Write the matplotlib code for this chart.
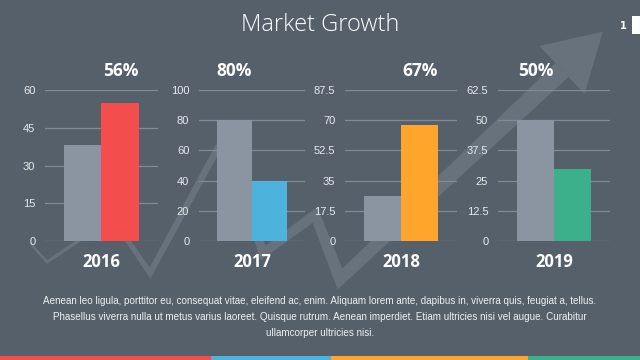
import numpy as np
import matplotlib
matplotlib.use("Agg")
import matplotlib.pyplot as plt
from matplotlib.patches import Polygon, Rectangle

# data
years = ["2016", "2017", "2018", "2019"]
base_values = [38, 80, 26, 50]
growth_values = [55, 40, 67, 30]
percent_labels = ["56%", "80%", "67%", "50%"]
y_max = [60, 100, 87.5, 62.5]
y_step = [15, 20, 17.5, 12.5]
tick_labels = [
    ["0", "15", "30", "45", "60"],
    ["0", "20", "40", "60", "80", "100"],
    ["0", "17.5", "35", "52.5", "70", "87.5"],
    ["0", "12.5", "25", "37.5", "50", "62.5"],
]
accent_colors = ["#f34d4d", "#4db3dc", "#ffa52c", "#3bb08b"]
paragraph = [
    "Aenean leo ligula, porttitor eu, consequat vitae, eleifend ac, enim. Aliquam lorem ante, dapibus in, viverra quis, feugiat a, tellus.",
    "Phasellus viverra nulla ut metus varius laoreet. Quisque rutrum. Aenean imperdiet. Etiam ultricies nisi vel augue. Curabitur",
    "ullamcorper ultricies nisi.",
]

BG = "#56606a"
GRAY = "#8a95a1"
GRID = "#808b96"
W, H = 640, 360

fig = plt.figure(figsize=(6.4, 3.6), dpi=100, facecolor=BG)


def fx(x):
    return x / W


def fy(y):
    return 1 - y / H


# background zigzag arrow (decoration, pixel coords)
pts = np.array([(30, 243), (47, 262), (112, 218), (150, 273), (225, 135),
                (263, 253), (315, 215), (340, 279), (562, 70)], float)
widths = np.array([2, 3, 4, 6, 7, 9, 10, 12, 19], float)
segs = np.diff(pts, axis=0)
segs /= np.linalg.norm(segs, axis=1)[:, None]
normals = np.stack([-segs[:, 1], segs[:, 0]], axis=1)
left, right = [], []
for i in range(len(pts)):
    if i == 0:
        n = normals[0]
    elif i == len(pts) - 1:
        n = normals[-1]
    else:
        n = normals[i - 1] + normals[i]
        n /= np.linalg.norm(n)
        n = n / max(np.dot(n, normals[i]), 0.3)
    left.append(pts[i] + n * widths[i] / 2)
    right.append(pts[i] - n * widths[i] / 2)
shaft = np.array(left + right[::-1])
d = segs[-1]
nrm = normals[-1]
tip = pts[-1] + d * 56
head = np.array([pts[-1] + nrm * 33, tip, pts[-1] - nrm * 33])
arrow_col = "#67727d"
for poly in (shaft, head):
    fig.patches.append(Polygon(np.column_stack([fx(poly[:, 0]), fy(poly[:, 1])]),
                               closed=True, transform=fig.transFigure,
                               facecolor=arrow_col, edgecolor="none", zorder=-5))

# title and page marker
fig.text(0.5, fy(25), "Market Growth", ha="center", va="center", color="white",
         fontsize=17, family="Open Sans", fontweight="light")
fig.text(fx(623), fy(26), "1", ha="center", va="center", color="white",
         fontsize=7, fontweight="bold")
fig.patches.append(Rectangle((fx(632), fy(34)), 8 / W, 18 / H, transform=fig.transFigure,
                             facecolor="white", edgecolor="none"))

# panels
lefts = [45, 199, 345, 498]
rights = [158, 305, 457, 610]
top, bottom = 90, 241
for i in range(4):
    ax = fig.add_axes([fx(lefts[i]), fy(bottom), (rights[i] - lefts[i]) / W, (bottom - top) / H])
    ax.set_facecolor("none")
    vals = [base_values[i], growth_values[i]]
    ax.bar([0, 1], vals, width=1.0, color=[GRAY, accent_colors[i]], zorder=3)
    ax.set_xlim(-1, 2)
    ax.set_ylim(0, y_max[i])
    ticks = np.arange(len(tick_labels[i])) * y_step[i]
    ax.set_yticks(ticks)
    ax.set_yticklabels(tick_labels[i])
    ax.set_xticks([])
    ax.tick_params(axis="y", length=0, pad=7, labelcolor="#e6eaee", labelsize=8)
    for lab in ax.get_yticklabels():
        lab.set_family("Liberation Sans")
    ax.grid(axis="y", color=GRID, linewidth=0.9, zorder=0)
    for s in ax.spines.values():
        s.set_visible(False)
    ax.annotate(years[i], xy=(0.5, 0), xycoords=("data", "axes fraction"),
                xytext=(0, -15), textcoords="offset points", ha="center", va="center",
                color="white", fontsize=12, fontweight="bold", family="Open Sans")
    top_bar = int(np.argmax(vals))
    ax.annotate(percent_labels[i], xy=(top_bar, 1), xycoords=("data", "axes fraction"),
                xytext=(0, 14), textcoords="offset points", ha="center", va="center",
                color="white", fontsize=12.5, fontweight="bold", family="Open Sans")

# paragraph
for k, line in enumerate(paragraph):
    fig.text(0.5, fy(301 + k * 16), line, ha="center", va="center", color="#eef1f4",
             fontsize=7.1, family="Liberation Sans")

# bottom color strip
edges = [0, 211, 331, 528, 640]
for i in range(4):
    fig.patches.append(Rectangle((fx(edges[i]), 0), (edges[i + 1] - edges[i]) / W, 4 / H,
                                 transform=fig.transFigure, facecolor=accent_colors[i],
                                 edgecolor="none"))

fig.savefig("out.png", dpi=100, facecolor=BG)
